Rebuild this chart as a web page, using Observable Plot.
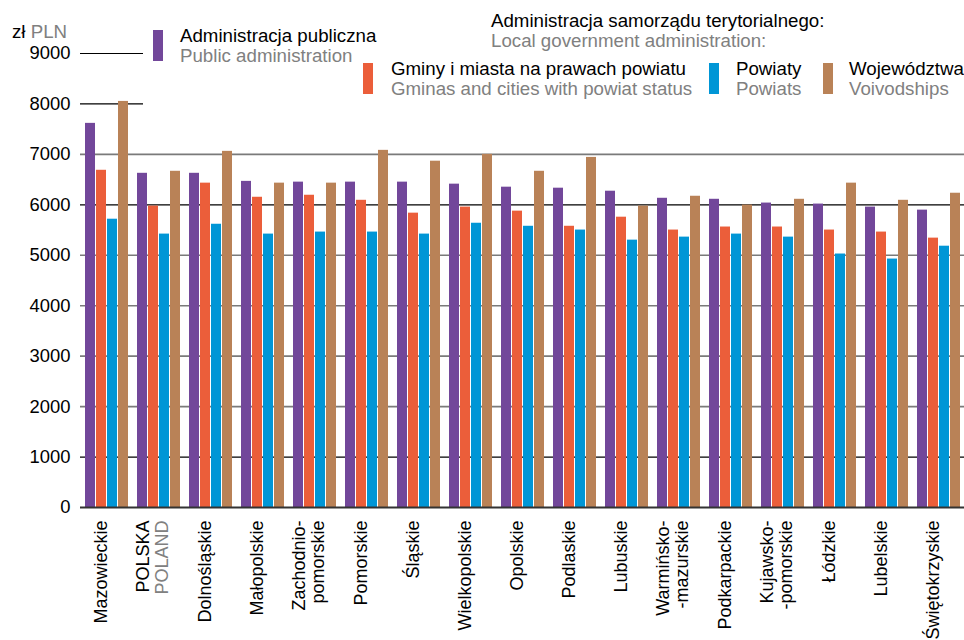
<!DOCTYPE html>
<html>
<head>
<meta charset="utf-8">
<script src="https://cdn.jsdelivr.net/npm/d3@7"></script>
<script src="https://cdn.jsdelivr.net/npm/@observablehq/plot@0.6"></script>
<style>
  html, body { margin: 0; padding: 0; background: white; }
  #wrap { position: relative; width: 964px; height: 640px; font-family: "Liberation Sans", Arial, sans-serif; overflow: hidden; }
  .t { position: absolute; font-size: 18.7px; line-height: 20px; white-space: nowrap; color: #000; }
  .g { color: #808080; }
  .sw { position: absolute; }
  #cover { position: absolute; left: 143px; top: 0; width: 821px; height: 112px; background: white; }
</style>
</head>
<body>
<div id="wrap"></div>
<script>
const regions = ["Mazowieckie","POLSKA","Dolnośląskie","Małopolskie","Zachodniopomorskie","Pomorskie","Śląskie","Wielkopolskie","Opolskie","Podlaskie","Lubuskie","Warmińsko-mazurskie","Podkarpackie","Kujawsko-pomorskie","Łódzkie","Lubelskie","Świętokrzyskie"];
const regionLabels = [["Mazowieckie"],["POLSKA","POLAND"],["Dolnośląskie"],["Małopolskie"],["Zachodnio-","pomorskie"],["Pomorskie"],["Śląskie"],["Wielkopolskie"],["Opolskie"],["Podlaskie"],["Lubuskie"],["Warmińsko-","-mazurskie"],["Podkarpackie"],["Kujawsko-","-pomorskie"],["Łódzkie"],["Lubelskie"],["Świętokrzyskie"]];
const series = ["Administracja publiczna","Gminy i miasta na prawach powiatu","Powiaty","Województwa"];
const seriesEn = ["Public administration","Gminas and cities with powiat status","Powiats","Voivodships"];
const publicAdmin = [7615,6625,6625,6465,6450,6450,6450,6410,6350,6330,6270,6130,6110,6035,6015,5955,5895];
const gminy       = [6685,5975,6430,6150,6190,6090,5835,5955,5875,5575,5755,5500,5560,5560,5500,5460,5340];
const powiaty     = [5715,5420,5615,5420,5460,5460,5420,5635,5575,5500,5300,5360,5420,5360,5025,4925,5180];
const wojewodztwa = [8050,6665,7060,6430,6430,7080,6865,7000,6665,6940,5975,6170,5995,6110,6430,6090,6230];
const yTicks = [0,1000,2000,3000,4000,5000,6000,7000,8000,9000];
const grayTicks = [2000,3000,4000,5000,7000];
const blackTicks = [1000,6000,8000,9000];
const colors = ["#72479A","#EB5E3A","#0096D6","#B98257"];

const valueSets = [publicAdmin, gminy, powiaty, wojewodztwa];
const rows = [];
regions.forEach((r, i) => series.forEach((s, j) => rows.push({region: r, series: s, value: valueSets[j][i]})));

const labelRows = [];
regions.forEach((r, i) => {
  const lines = regionLabels[i];
  lines.forEach((t, k) => labelRows.push({region: r, text: t, n: lines.length, k, gray: t === "POLAND"}));
});

const font = "Liberation Sans, Arial, sans-serif";
const labelOpts = {fx: "region", text: "text", frameAnchor: "bottom", dy: 13, rotate: -90, textAnchor: "end", fontSize: 18, fontFamily: font};

const chart = Plot.plot({
  width: 964, height: 640,
  marginLeft: 80, marginRight: 0, marginTop: 53, marginBottom: 133,
  style: {background: "white", fontFamily: font, overflow: "visible"},
  fx: {domain: regions, paddingInner: 0, paddingOuter: 0, axis: null, label: null},
  x: {domain: series, paddingInner: 0.12, paddingOuter: 0.32, axis: null},
  y: {domain: [0, 9000], axis: null},
  color: {domain: series, range: colors},
  marks: [
    Plot.ruleY(grayTicks, {stroke: "#7a7a7a", strokeWidth: 1.6}),
    Plot.ruleY(blackTicks, {stroke: "#000", strokeWidth: 1.2}),
    Plot.barY(rows, {fx: "region", x: "series", y: "value", fill: "series"}),
    Plot.ruleY([0], {stroke: "#333", strokeWidth: 2}),
    Plot.axisY(yTicks, {tickSize: 0, tickPadding: 10, fontSize: 18.4, fontFamily: font, fill: "#000", label: null, tickFormat: d => String(d)}),
    Plot.text(labelRows.filter(d => d.n === 1), {...labelOpts, fill: "#000"}),
    Plot.text(labelRows.filter(d => d.n === 2 && d.k === 0), {...labelOpts, dx: -9.5, fill: "#000"}),
    Plot.text(labelRows.filter(d => d.n === 2 && d.k === 1 && !d.gray), {...labelOpts, dx: 9.5, fill: "#000"}),
    Plot.text(labelRows.filter(d => d.n === 2 && d.k === 1 && d.gray), {...labelOpts, dx: 9.5, fill: "#808080"})
  ]
});

const wrap = document.getElementById("wrap");
wrap.appendChild(chart);
chart.style.position = "absolute";
chart.style.left = "0px";
chart.style.top = "0px";

function add(html) { wrap.insertAdjacentHTML("beforeend", html); }
add(`<div id="cover"></div>`);
add(`<div class="t" style="left:12px;top:22px">zł <span class="g">PLN</span></div>`);
// public administration
add(`<div class="sw" style="left:153px;top:30px;width:10px;height:31px;background:${colors[0]}"></div>`);
add(`<div class="t" style="left:180px;top:25.5px">${series[0]}</div>`);
add(`<div class="t g" style="left:180px;top:45.5px">${seriesEn[0]}</div>`);
// local gov
add(`<div class="t" style="left:491px;top:10.5px">Administracja samorządu terytorialnego:</div>`);
add(`<div class="t g" style="left:491px;top:31px">Local government administration:</div>`);
const legX = [[363, 391], [709, 736], [823, 849]];
[1, 2, 3].forEach((j, idx) => {
  const [sx, tx] = legX[idx];
  add(`<div class="sw" style="left:${sx}px;top:63px;width:10px;height:31px;background:${colors[j]}"></div>`);
  add(`<div class="t" style="left:${tx}px;top:58.5px">${series[j]}</div>`);
  add(`<div class="t g" style="left:${tx}px;top:78.5px">${seriesEn[j]}</div>`);
});
</script>
</body>
</html>
